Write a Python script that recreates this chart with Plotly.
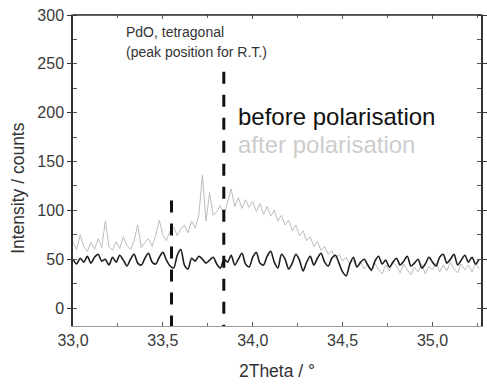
import numpy as np
import plotly.graph_objects as go

# 2Theta grid (degrees), step 0.02 from 33.00 to 35.26
two_theta = np.round(np.arange(33.00, 35.27, 0.02), 2)

before = [
    50, 45, 51, 47, 53, 46, 52, 55, 48, 50,
    44, 52, 47, 54, 49, 43, 50, 55, 46, 44,
    51, 56, 47, 45, 52, 57, 49, 43, 41, 54,
    60, 44, 40, 51, 48, 53, 50, 46, 49, 52,
    45, 41, 50, 47, 54, 44, 50, 56, 45, 42,
    52, 57, 46, 44, 53, 58, 47, 41, 55, 50,
    40, 46, 55, 49, 38, 47, 53, 44, 51, 56,
    47, 43, 51, 54, 46, 37, 33, 45, 52, 42,
    47, 50, 44, 39, 48, 53, 45, 49, 42, 47,
    51, 44, 48, 53, 43, 46, 50, 41, 45, 52,
    47, 43, 52, 55, 46, 50, 55, 44, 49, 54,
    47, 52, 45, 50,
]

after = [
    68, 60, 75, 63, 58, 67, 60, 71, 62, 89,
    63, 59, 68, 61, 73, 64, 60, 69, 85, 62,
    67, 71, 63, 74, 90, 75, 69, 79, 83, 74,
    81, 85, 77, 89, 82, 95, 136, 89, 118, 95,
    99, 105, 95, 109, 122, 104, 113, 102, 111, 103,
    109, 99, 107, 96, 104, 94, 100, 89, 95, 85,
    90, 79, 85, 74, 79, 69, 73, 63, 68, 59,
    63, 55, 59, 51, 55, 48, 52, 45, 49, 42,
    47, 40, 45, 37, 46, 39, 35, 44, 38, 47,
    43, 36, 45, 39, 34, 42, 37, 45, 35, 43,
    39, 46, 37, 44, 38, 47, 40, 36, 45, 39,
    44, 37, 46, 40,
]

# PdO tetragonal reference peak positions and drawn marker heights
peak_pos = [33.548, 33.839]
peak_top = [110, 242]

x_ticks = [33.0, 33.5, 34.0, 34.5, 35.0]
x_ticktext = ["33,0", "33,5", "34,0", "34,5", "35,0"]
y_ticks = [0, 50, 100, 150, 200, 250, 300]

X_RANGE = [33.0, 35.27]
Y_RANGE = [-18.4, 300]

FONT = "Liberation Sans, Arial, sans-serif"

fig = go.Figure()

fig.add_trace(go.Scatter(x=two_theta, y=after, mode="lines",
                         line=dict(color="#bcbcbc", width=1),
                         showlegend=False, hoverinfo="skip"))
fig.add_trace(go.Scatter(x=two_theta, y=before, mode="lines",
                         line=dict(color="#1e1e1e", width=1.6, shape="spline", smoothing=0.8),
                         showlegend=False, hoverinfo="skip"))

for px, pt in zip(peak_pos, peak_top):
    fig.add_trace(go.Scatter(x=[px, px], y=[pt, Y_RANGE[0]], mode="lines",
                             line=dict(color="#111111", width=3, dash="12px,11px"),
                             showlegend=False, hoverinfo="skip"))

fig.add_annotation(x=33.285, y=282.6, text="PdO, tetragonal", showarrow=False,
                   xanchor="left", yanchor="middle",
                   font=dict(family=FONT, size=14, color="#333333"))
fig.add_annotation(x=33.285, y=262, text="(peak position for R.T.)", showarrow=False,
                   xanchor="left", yanchor="middle",
                   font=dict(family=FONT, size=14, color="#333333"))
fig.add_annotation(x=33.905, y=195.6, text="before polarisation", showarrow=False,
                   xanchor="left", yanchor="middle",
                   font=dict(family=FONT, size=24, color="#111111"))
fig.add_annotation(x=33.905, y=167, text="after polarisation", showarrow=False,
                   xanchor="left", yanchor="middle",
                   font=dict(family=FONT, size=24, color="#cdcdcd"))

# y-axis title placed as in the reference (slightly below plot centre)
fig.add_annotation(xref="paper", yref="paper", x=-0.135, y=0.444,
                   text="Intensity / counts", textangle=-90, showarrow=False,
                   xanchor="center", yanchor="middle",
                   font=dict(family=FONT, size=17.5, color="#333333"))

# dark top frame line
fig.add_shape(type="line", xref="paper", yref="paper", x0=0, x1=1, y0=1, y1=1,
              line=dict(color="#333333", width=1.5))

fig.update_xaxes(range=X_RANGE, tickvals=x_ticks, ticktext=x_ticktext,
                 ticks="inside", ticklen=4, tickcolor="#555555",
                 showline=True, linecolor="#9a9a9a", linewidth=1, mirror="ticks",
                 showgrid=False, zeroline=False,
                 minor=dict(dtick=0.25, tick0=33.0, ticks="inside", ticklen=3, tickcolor="#666666"),
                 tickfont=dict(family=FONT, size=16, color="#3a3a3a"),
                 title=dict(text="2Theta / °", font=dict(family=FONT, size=17.5, color="#333333"),
                            standoff=16))
fig.update_yaxes(range=Y_RANGE, tickvals=y_ticks,
                 ticks="outside", ticklen=4, tickcolor="#333333",
                 showline=True, linecolor="#333333", linewidth=1.5, mirror="ticks",
                 showgrid=False, zeroline=False,
                 minor=dict(dtick=25, tick0=0, ticks="inside", ticklen=4, tickcolor="#555555"),
                 tickfont=dict(family=FONT, size=16, color="#3a3a3a"))

fig.update_layout(width=487, height=385,
                  margin=dict(l=73, r=0, t=15, b=59),
                  paper_bgcolor="white", plot_bgcolor="white")

fig.write_html("out.html")
